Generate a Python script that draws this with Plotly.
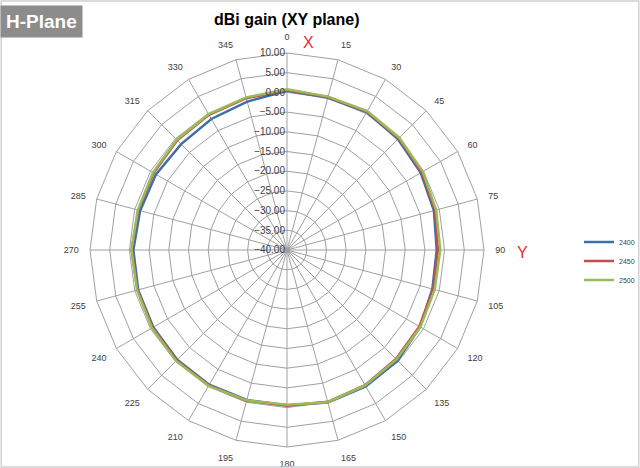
import plotly.graph_objects as go

# angles in degrees (Excel radar categories)
angles = [str(a) for a in range(0, 360, 15)]

# gain in dBi
gain_2400 = [0.4, 0.0, 0.4, -0.2, -0.8, -1.4, -2.0, -1.8, -1.0, -0.3, 0.0, 0.1,
             -0.6, -0.6, -0.5, -0.6, -0.8, -0.9, -1.0, -1.4, -1.6, -2.0, -1.6, -1.0]
gain_2450 = [0.6, 0.2, 0.6, 0.1, -0.5, -1.1, -1.7, -1.6, -1.2, -0.9, -0.4, -0.1,
             -0.5, -0.4, -0.3, -0.4, -0.6, -0.7, -0.6, -0.9, -0.9, -0.6, -0.4, -0.1]
gain_2500 = [0.8, 0.3, 0.7, 0.3, -0.2, -0.8, -1.1, -1.2, -0.9, -0.7, -0.3, 0.0,
             -0.7, -0.5, -0.2, -0.2, -0.4, -0.6, -0.5, -0.8, -0.7, -0.4, -0.2, 0.1]

series = [('2400', gain_2400, '#3e6fa6'),
          ('2450', gain_2450, '#c0504d'),
          ('2500', gain_2500, '#9bbb59')]

radial_ticks = list(range(-40, 15, 5))

fig = go.Figure()

for name, vals, color in series:
    # repeat the first point so the loop closes
    fig.add_trace(go.Scatterpolar(
        r=vals + vals[:1],
        theta=angles + angles[:1],
        mode='lines',
        name=name,
        line=dict(color=color, width=2.5)
    ))

fig.update_layout(
    width=640, height=468,
    margin=dict(l=0, r=0, t=0, b=0),
    paper_bgcolor='white',
    plot_bgcolor='white',
    font=dict(family='Liberation Sans', size=9, color='#404040'),
    polar=dict(
        domain=dict(x=[90/640, 484/640], y=[21/468, 415/468]),
        bgcolor='white',
        gridshape='linear',
        angularaxis=dict(
            type='category',
            categoryorder='array',
            categoryarray=angles,
            rotation=90,
            direction='clockwise',
            showline=True,
            linecolor='#a0a0a0',
            gridcolor='#a0a0a0',
            ticks='outside',
            ticklen=9,
            tickcolor='rgba(0,0,0,0)',
            tickfont=dict(size=9, color='#404040'),
        ),
        radialaxis=dict(
            range=[-40, 10],
            tickvals=radial_ticks,
            tickformat='.2f',
            ticksuffix='\u00a0\u00a0\u00a0',
            angle=90,
            tickangle=90,
            side='counterclockwise',
            showline=False,
            gridcolor='#a0a0a0',
            ticks='',
            tickfont=dict(size=10, color='#404040'),
        ),
    ),
    legend=dict(
        x=0.905, y=1 - 261/468, xanchor='left', yanchor='middle',
        font=dict(size=7, color='#404040'),
        itemwidth=30,
        tracegroupgap=12,
        bgcolor='rgba(0,0,0,0)'
    ),
)

fig.add_annotation(text='<b>dBi gain (XY plane)</b>', x=287/640, y=1 - 20/468,
                   xref='paper', yref='paper', xanchor='center', yanchor='middle',
                   showarrow=False,
                   font=dict(size=16, color='#000000', family='Liberation Sans'))
fig.add_annotation(text='<b>H-Plane</b>', x=0.0, y=1 - 5/468,
                   xref='paper', yref='paper', xanchor='left', yanchor='top',
                   showarrow=False, bgcolor='#8c8c8c', borderpad=5,
                   font=dict(size=19, color='white', family='Liberation Sans'))
fig.add_annotation(text='X', x=308/640, y=1 - 42/468, xref='paper', yref='paper',
                   xanchor='center', yanchor='middle', showarrow=False,
                   font=dict(size=16, color='#e0303a'))
fig.add_annotation(text='Y', x=522/640, y=1 - 252/468, xref='paper', yref='paper',
                   xanchor='center', yanchor='middle', showarrow=False,
                   font=dict(size=16, color='#e0303a'))

# light frame round the whole picture
fig.add_shape(type='rect', xref='paper', yref='paper', x0=0.002, y0=0.002,
              x1=0.998, y1=0.998, line=dict(color='#d0d0d0', width=1.5))

# drop the page margin so the 640x468 figure sits at the window corner
fig.write_html('out.html', config={'displayModeBar': False},
               post_script="document.body.style.margin='0';")
